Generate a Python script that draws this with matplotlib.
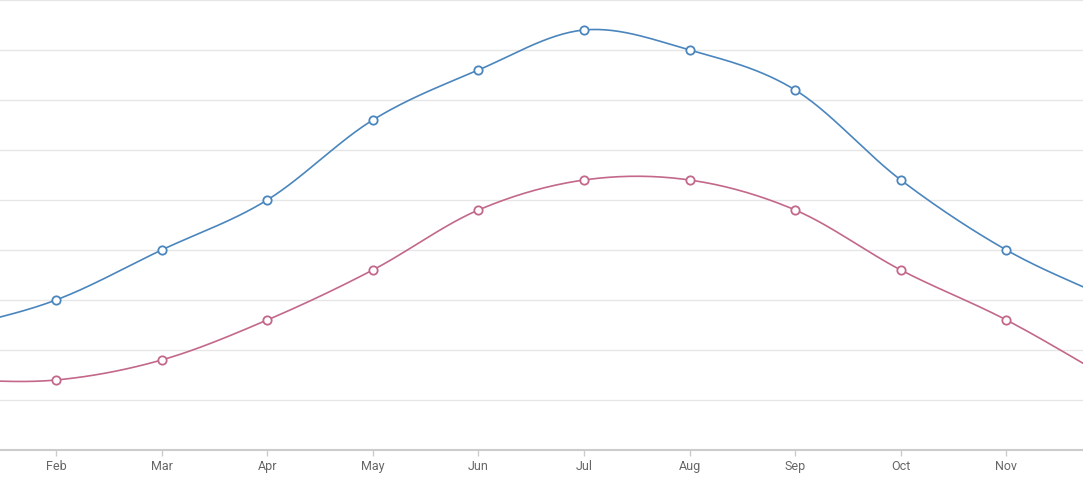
import matplotlib.pyplot as plt
import numpy as np

plt.rcParams['font.family'] = ['Roboto', 'DejaVu Sans']

# data
months = ['Jan', 'Feb', 'Mar', 'Apr', 'May', 'Jun', 'Jul', 'Aug', 'Sep', 'Oct', 'Nov', 'Dec']
high = [12, 15, 20, 25, 33, 38, 42, 40, 36, 27, 20, 15]
low = [7, 7, 9, 13, 18, 24, 27, 27, 24, 18, 13, 7]

BLUE = '#4a86bd'
RED = '#c3688a'

#catmull-rom curve through the points, for drawing only
def smooth(xs, ys, steps=30):
    xs = np.asarray(xs, float)
    ys = np.asarray(ys, float)
    n = len(ys)
    m = np.zeros(n)
    m[1:-1] = (ys[2:] - ys[:-2]) / 2
    m[0] = ys[1] - ys[0]
    m[-1] = ys[-1] - ys[-2]
    ox, oy = [], []
    t = np.linspace(0, 1, steps, endpoint=False)
    h00 = 2*t**3 - 3*t**2 + 1
    h10 = t**3 - 2*t**2 + t
    h01 = -2*t**3 + 3*t**2
    h11 = t**3 - t**2
    for i in range(n - 1):
        ox.extend(xs[i] + t * (xs[i+1] - xs[i]))
        oy.extend(h00*ys[i] + h10*m[i] + h01*ys[i+1] + h11*m[i+1])
    ox.append(xs[-1])
    oy.append(ys[-1])
    return ox, oy

fig = plt.figure(figsize=(10.83, 4.79), dpi=100)
ax = fig.add_axes([0, 29/479, 1, 451/479])

x = np.arange(len(months))
for vals, col in [(high, BLUE), (low, RED)]:
    sx, sy = smooth(x, vals)
    ax.plot(sx, sy, color=col, lw=1.2, zorder=3)
    ax.plot(x, vals, 'o', ms=6, mfc='white', mec=col, mew=1.3, zorder=4)

ax.set_yticks(np.arange(5, 50, 5))
ax.yaxis.grid(True, color='#e6e6e6', lw=1)
ax.set_axisbelow(True)
ax.tick_params(axis='y', left=False, labelleft=False)

ax.set_xticks(x)
ax.set_xticklabels(months)
ax.tick_params(axis='x', length=4, width=1, color='#cccccc', labelcolor='#666666',
               labelsize=9, pad=3)

# visible window: Feb..Nov, curve runs past both edges
ax.set_xlim(1 - 56/105.6, 1 + 1027/105.6)
ax.set_ylim(0, 45.1)

for s in ['top', 'left', 'right']:
    ax.spines[s].set_visible(False)
ax.spines['bottom'].set_color('#cccccc')
ax.spines['bottom'].set_linewidth(1.5)

fig.savefig('out.png', dpi=100)
